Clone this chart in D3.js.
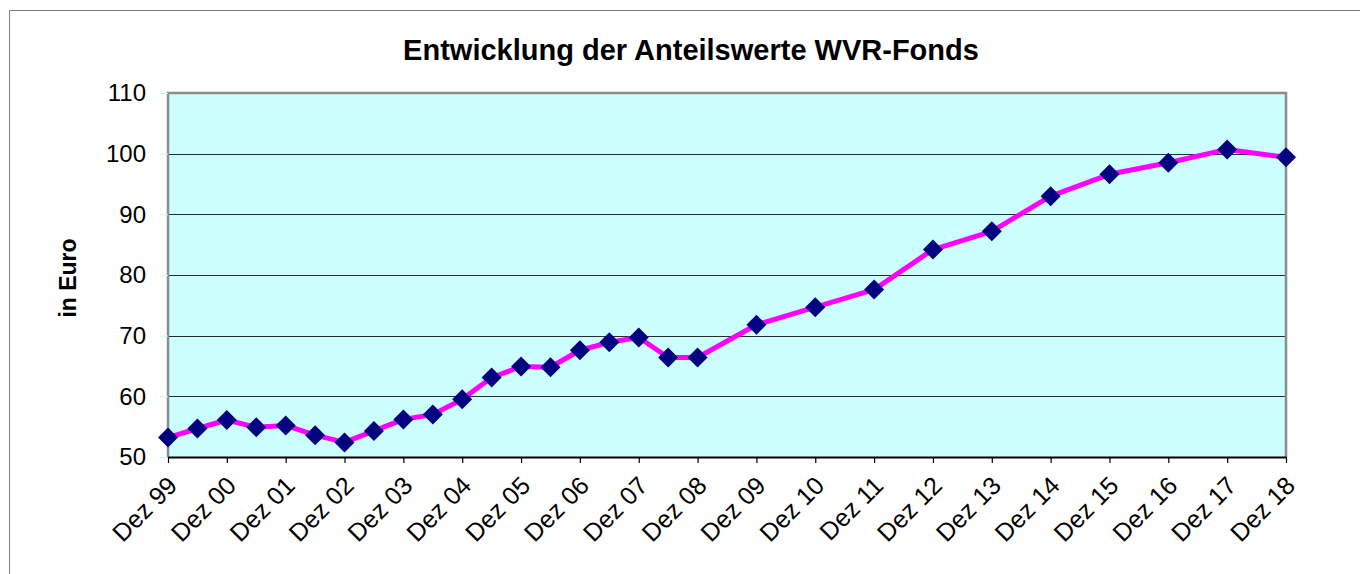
<!DOCTYPE html>
<html>
<head>
<meta charset="utf-8">
<script src="https://cdn.jsdelivr.net/npm/d3@7"></script>
<style>
  html, body { margin: 0; padding: 0; background: #fff; }
  svg { display: block; font-family: Arial, "Liberation Sans", sans-serif; }
</style>
</head>
<body>
<svg id="chart" width="1360" height="574"></svg>
<script>
// half-yearly values up to Dez 08, yearly afterwards
const periods = ['Dez 99', 'Jun 00', 'Dez 00', 'Jun 01', 'Dez 01', 'Jun 02', 'Dez 02', 'Jun 03',
  'Dez 03', 'Jun 04', 'Dez 04', 'Jun 05', 'Dez 05', 'Jun 06', 'Dez 06', 'Jun 07', 'Dez 07',
  'Jun 08', 'Dez 08', 'Dez 09', 'Dez 10', 'Dez 11', 'Dez 12', 'Dez 13', 'Dez 14', 'Dez 15',
  'Dez 16', 'Dez 17', 'Dez 18'];
const values = [53.2, 54.7, 56.1, 54.9, 55.2, 53.6, 52.4, 54.3,
  56.2, 57.0, 59.5, 63.1, 64.9, 64.8, 67.6, 68.9, 69.7,
  66.4, 66.4, 71.8, 74.7, 77.6, 84.2, 87.2, 93.0, 96.6,
  98.5, 100.7, 99.4];
const xTickLabels = ['Dez 99', 'Dez 00', 'Dez 01', 'Dez 02', 'Dez 03', 'Dez 04', 'Dez 05',
  'Dez 06', 'Dez 07', 'Dez 08', 'Dez 09', 'Dez 10', 'Dez 11', 'Dez 12', 'Dez 13', 'Dez 14',
  'Dez 15', 'Dez 16', 'Dez 17', 'Dez 18'];
const yTicks = [50, 60, 70, 80, 90, 100, 110];

const title = 'Entwicklung der Anteilswerte WVR-Fonds';
const yTitle = 'in Euro';

// 'Dez 99' -> 2000.0, 'Jun 00' -> 2000.5
function toTime(label) {
  const [mon, yy] = label.split(' ');
  const year = +yy >= 90 ? 1900 + +yy : 2000 + +yy;
  return year + (mon === 'Jun' ? 6 : 12) / 12;
}

const svg = d3.select('#chart');
const plot = { left: 168, right: 1286, top: 93, bottom: 457 };

// outer chart frame
svg.append('rect')
  .attr('x', 9.5).attr('y', 10.5)
  .attr('width', 1400).attr('height', 600)
  .attr('fill', '#fff')
  .attr('stroke', '#808080')
  .attr('stroke-width', 1);

const x = d3.scaleLinear()
  .domain([toTime(xTickLabels[0]), toTime(xTickLabels[xTickLabels.length - 1])])
  .range([plot.left, plot.right]);
const y = d3.scaleLinear()
  .domain([d3.min(yTicks), d3.max(yTicks)])
  .range([plot.bottom, plot.top]);

// plot background
svg.append('rect')
  .attr('x', plot.left).attr('y', plot.top)
  .attr('width', plot.right - plot.left)
  .attr('height', plot.bottom - plot.top)
  .attr('fill', '#ccffff');

// gridlines
svg.append('g')
  .selectAll('line')
  .data(yTicks.filter(v => v > 50 && v < 110))
  .join('line')
  .attr('x1', plot.left).attr('x2', plot.right)
  .attr('y1', d => Math.round(y(d)) + 0.5)
  .attr('y2', d => Math.round(y(d)) + 0.5)
  .attr('stroke', '#2a2a2a')
  .attr('stroke-width', 1);

// plot border (gray left/top/right)
svg.append('path')
  .attr('d', `M${plot.left},${plot.bottom} V${plot.top} H${plot.right} V${plot.bottom}`)
  .attr('fill', 'none')
  .attr('stroke', '#8c8c8c')
  .attr('stroke-width', 2.5);

// y axis
const yAxis = svg.append('g')
  .attr('transform', `translate(${plot.left},0)`)
  .call(d3.axisLeft(y).tickValues(yTicks).tickSize(8).tickPadding(14));
yAxis.select('.domain').remove();
yAxis.selectAll('.tick line').attr('stroke', '#c8f4f4');
yAxis.selectAll('.tick text')
  .attr('font-size', 24)
  .attr('fill', '#000')
  .attr('font-family', 'Arial, "Liberation Sans", sans-serif');

// x axis
const xAxis = svg.append('g')
  .attr('transform', `translate(0,${plot.bottom})`)
  .call(d3.axisBottom(x)
    .tickValues(xTickLabels.map(toTime))
    .tickFormat((d, i) => xTickLabels[i])
    .tickSize(6)
    .tickSizeOuter(0));
xAxis.select('.domain').attr('stroke', '#000').attr('stroke-width', 2);
xAxis.selectAll('.tick line').attr('stroke', '#000').attr('stroke-width', 1.2);
xAxis.selectAll('.tick text')
  .attr('font-size', 25)
  .attr('fill', '#000')
  .attr('font-family', 'Arial, "Liberation Sans", sans-serif')
  .attr('text-anchor', 'end')
  .attr('y', 0).attr('dy', '0.35em')
  .attr('transform', 'translate(4,24) rotate(-45)');

// line
const pts = periods.map((p, i) => ({ t: toTime(p), v: values[i] }));
svg.append('path')
  .datum(pts)
  .attr('d', d3.line().x(d => x(d.t)).y(d => y(d.v)))
  .attr('fill', 'none')
  .attr('stroke', '#ff00ff')
  .attr('stroke-width', 5)
  .attr('stroke-linejoin', 'round');

// diamond markers
svg.append('g')
  .selectAll('path')
  .data(pts)
  .join('path')
  .attr('d', d3.symbol(d3.symbolSquare, 200))
  .attr('transform', d => `translate(${x(d.t)},${y(d.v)}) rotate(45)`)
  .attr('fill', '#000080');

// titles
svg.append('text')
  .attr('x', 691).attr('y', 60)
  .attr('text-anchor', 'middle')
  .attr('font-size', 29)
  .attr('font-weight', 'bold')
  .text(title);

svg.append('text')
  .attr('transform', 'translate(76,278) rotate(-90)')
  .attr('text-anchor', 'middle')
  .attr('font-size', 23)
  .attr('font-weight', 'bold')
  .text(yTitle);
</script>
</body>
</html>
